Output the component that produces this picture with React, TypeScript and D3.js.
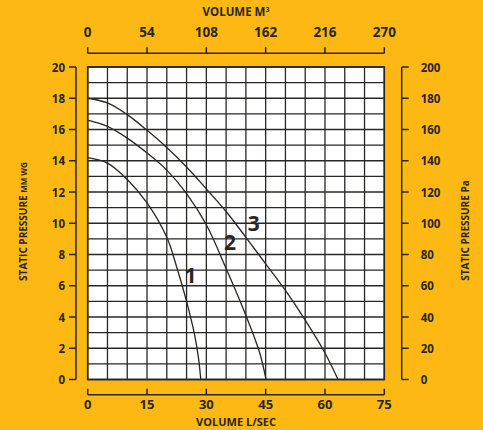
import React from "react";
import * as d3 from "d3";

const bottomTicks = [0, 15, 30, 45, 60, 75];
const topTicks = [0, 54, 108, 162, 216, 270];
const leftTicks = [0, 2, 4, 6, 8, 10, 12, 14, 16, 18, 20];
const rightTicks = [0, 20, 40, 60, 80, 100, 120, 140, 160, 180, 200];

const curve1Flow = [0, 5, 10, 15, 20, 22.5, 25, 27, 28, 28.6];
const curve1Press = [14.2, 13.85, 12.8, 11.3, 9.1, 7.2, 5.0, 2.9, 1.4, 0];
const curve2Flow = [0, 5, 10, 15, 20, 25, 30, 35, 40, 43.5, 45.1];
const curve2Press = [16.6, 16.2, 15.45, 14.5, 13.4, 11.9, 9.9, 7.1, 4.1, 1.7, 0];
const curve3Flow = [0, 5, 10, 15, 20, 25, 30, 35, 40, 45, 50, 55, 60, 63.3];
const curve3Press = [18.0, 17.7, 16.95, 15.95, 14.85, 13.6, 12.2, 10.75, 9.1, 7.4, 5.7, 3.8, 1.7, 0];
const curveLabels = ["1", "2", "3"];
const labelFlow = [26, 36, 42];
const labelPress = [6.7, 8.8, 10.0];

const BG = "#FDB813";
const INK = "#2a2624";
const FONT = "'Open Sans', 'Noto Sans', sans-serif";

export default function App() {
  const left = 87.7, right = 384.3, top = 67, bottom = 379.5;
  const x = d3.scaleLinear().domain([0, 75]).range([left, right]);
  const xTop = d3.scaleLinear().domain([0, 270]).range([left, right]);
  const y = d3.scaleLinear().domain([0, 20]).range([bottom, top]);
  const yR = d3.scaleLinear().domain([0, 200]).range([bottom, top]);

  const line = d3
    .line<[number, number]>()
    .x((d) => x(d[0]))
    .y((d) => y(d[1]))
    .curve(d3.curveCatmullRom.alpha(0.5));

  const curves = [
    curve1Flow.map((f, i) => [f, curve1Press[i]] as [number, number]),
    curve2Flow.map((f, i) => [f, curve2Press[i]] as [number, number]),
    curve3Flow.map((f, i) => [f, curve3Press[i]] as [number, number]),
  ];

  const vGrid = d3.range(0, 76, 5);
  const hGrid = d3.range(0, 21, 1);

  const topAxisY = 53.3;
  const bottomAxisY = 394.7;
  const leftAxisX = 76;
  const rightAxisX = 401.7;

  return (
    <svg width={483} height={430} style={{ position: "absolute", left: 0, top: 0, display: "block" }}>
      <rect x={0} y={0} width={483} height={430} fill={BG} />
      <rect x={left} y={top} width={right - left} height={bottom - top} fill="#ffffff" />
      {vGrid.map((v) => (
        <line key={"v" + v} x1={x(v)} x2={x(v)} y1={top} y2={bottom} stroke={INK} strokeWidth={1.3} />
      ))}
      {hGrid.map((v) => (
        <line key={"h" + v} x1={left} x2={right} y1={y(v)} y2={y(v)} stroke={INK} strokeWidth={1.3} />
      ))}
      <rect x={left} y={top} width={right - left} height={bottom - top} fill="none" stroke={INK} strokeWidth={1.6} />
      {curves.map((c, i) => (
        <path key={"c" + i} d={line(c) || ""} fill="none" stroke={INK} strokeWidth={1.3} />
      ))}
      {curveLabels.map((l, i) => (
        <text key={"l" + i} x={x(labelFlow[i])} y={y(labelPress[i])} fontFamily={FONT} fontWeight={700} fontSize={21} fill={INK} textAnchor="middle" dominantBaseline="central">
          {l}
        </text>
      ))}

      {/* top axis */}
      <line x1={left} x2={right} y1={topAxisY} y2={topAxisY} stroke={INK} strokeWidth={1.5} />
      {topTicks.map((t) => (
        <g key={"tt" + t}>
          <line x1={xTop(t)} x2={xTop(t)} y1={topAxisY} y2={topAxisY - 6} stroke={INK} strokeWidth={1.5} />
          <text x={xTop(t)} y={36.7} fontFamily={FONT} fontWeight={700} fontSize={13.5} fill={INK} textAnchor="middle">
            {t}
          </text>
        </g>
      ))}
      <text x={(left + right) / 2} y={16} fontFamily={FONT} fontWeight={700} fontSize={11.5} fill={INK} textAnchor="middle">
        VOLUME M<tspan fontSize={7} dy={-4}>3</tspan>
      </text>

      {/* bottom axis */}
      <line x1={left} x2={right} y1={bottomAxisY} y2={bottomAxisY} stroke={INK} strokeWidth={1.5} />
      {bottomTicks.map((t) => (
        <g key={"bt" + t}>
          <line x1={x(t)} x2={x(t)} y1={bottomAxisY} y2={bottomAxisY - 6} stroke={INK} strokeWidth={1.5} />
          <text x={x(t)} y={408.5} fontFamily={FONT} fontWeight={700} fontSize={13} fill={INK} textAnchor="middle">
            {t}
          </text>
        </g>
      ))}
      <text x={(left + right) / 2} y={425.5} fontFamily={FONT} fontWeight={700} fontSize={11} fill={INK} textAnchor="middle">
        VOLUME L/SEC
      </text>

      {/* left axis */}
      <line x1={leftAxisX} x2={leftAxisX} y1={y(20)} y2={y(0)} stroke={INK} strokeWidth={1.5} />
      {leftTicks.map((t) => (
        <g key={"lt" + t}>
          <line x1={leftAxisX} x2={leftAxisX - 7} y1={y(t)} y2={y(t)} stroke={INK} strokeWidth={1.5} />
          <text x={65} y={y(t)} fontFamily={FONT} fontWeight={700} fontSize={11.5} fill={INK} textAnchor="end" dominantBaseline="central">
            {t}
          </text>
        </g>
      ))}
      <text transform={`translate(27,221.5) rotate(-90)`} fontFamily={FONT} fontWeight={700} fontSize={10} fill={INK} textAnchor="middle">
        STATIC PRESSURE <tspan fontSize={8}>MM WG</tspan>
      </text>

      {/* right axis */}
      <line x1={rightAxisX} x2={rightAxisX} y1={yR(200)} y2={yR(0)} stroke={INK} strokeWidth={1.5} />
      {rightTicks.map((t) => (
        <g key={"rt" + t}>
          <line x1={rightAxisX} x2={rightAxisX + 7} y1={yR(t)} y2={yR(t)} stroke={INK} strokeWidth={1.5} />
          <text x={420.7} y={yR(t)} fontFamily={FONT} fontWeight={700} fontSize={11.5} fill={INK} textAnchor="start" dominantBaseline="central">
            {t}
          </text>
        </g>
      ))}
      <text transform={`translate(469,230.5) rotate(-90)`} fontFamily={FONT} fontWeight={700} fontSize={10} fill={INK} textAnchor="middle">
        STATIC PRESSURE Pa
      </text>
    </svg>
  );
}
